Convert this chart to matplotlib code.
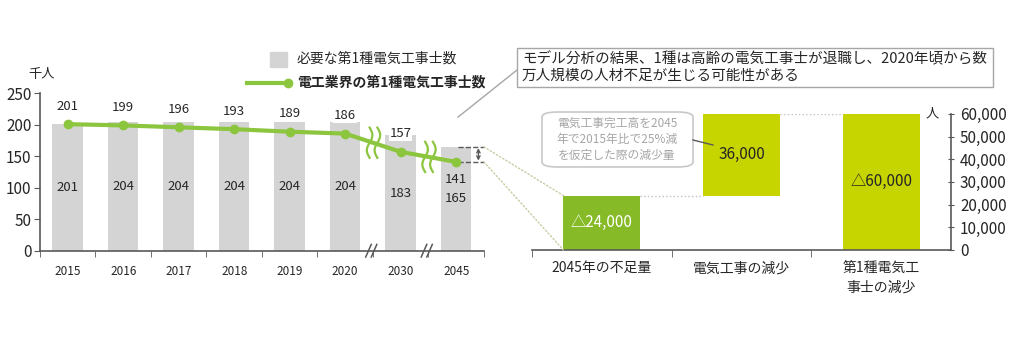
import numpy as np
import matplotlib.pyplot as plt
from matplotlib.patches import Rectangle, FancyBboxPatch, ConnectionPatch
from matplotlib.lines import Line2D
from matplotlib.ticker import FuncFormatter, FixedLocator

plt.rcParams['font.family'] = ['Noto Sans CJK JP', 'DejaVu Sans']

# 左: 必要数と電工業界の第1種電気工事士数(千人)
years = ['2015', '2016', '2017', '2018', '2019', '2020', '2030', '2045']
required = [201, 204, 204, 204, 204, 204, 183, 165]
workers = [201, 199, 196, 193, 189, 186, 157, 141]

# 右: 2045年の不足量の内訳(人)
steps = ['2045年の不足量', '電気工事の減少', '第1種電気工\n事士の減少']
step_base = [0, 24000, 0]
step_height = [24000, 36000, 60000]
step_labels = ['△24,000', '36,000', '△60,000']

GRAY_BAR = '#d4d4d4'
LINE_GREEN = '#8cc63e'
DARK_GREEN = '#86bb27'
LIME = '#c6d400'
AXIS = '#595959'
TEXT = '#262626'

fig = plt.figure(figsize=(10.24, 3.41), dpi=100)

# ---------- 左グラフ ----------
ax = fig.add_axes([0.039, 0.2648, 0.4336, 0.4616])
x = np.arange(len(years))
ax.bar(x, required, width=0.55, color=GRAY_BAR, zorder=1)
ax.plot(x, workers, color=LINE_GREEN, lw=3, marker='o', ms=6, zorder=3)

for i, v in enumerate(required):
    ax.text(i, v / 2, str(v), ha='center', va='center', fontsize=9.5, color=TEXT)
for i, v in enumerate(workers):
    if i == len(workers) - 1:
        ax.annotate(str(v), (i, v), xytext=(0, -12.5), textcoords='offset points',
                    ha='center', va='center', fontsize=9.5, color=TEXT)
    else:
        ax.annotate(str(v), (i, v), xytext=(0, 13), textcoords='offset points',
                    ha='center', va='center', fontsize=9.5, color=TEXT,
                    bbox=dict(fc='white', ec='none', pad=0.5))

ax.set_xlim(-0.5, len(years) - 0.5)
ax.set_ylim(0, 250)
ax.set_yticks(range(0, 251, 50))
ax.set_xticks(x)
ax.set_xticklabels(years, fontsize=8.5, color=TEXT)
ax.xaxis.set_minor_locator(FixedLocator(np.arange(-0.5, len(years), 1)))
ax.tick_params(axis='x', which='major', length=0, pad=10)
ax.tick_params(axis='x', which='minor', length=4, color=AXIS, direction='out')
ax.tick_params(axis='y', labelsize=11, colors=TEXT, length=4, color=AXIS, pad=2)
for s in ['top', 'right']:
    ax.spines[s].set_visible(False)
for s in ['left', 'bottom']:
    ax.spines[s].set_color(AXIS)
    ax.spines[s].set_linewidth(1.2)
ax.text(-0.027, 1.12, '千人', transform=ax.transAxes, fontsize=9.5, color=TEXT,
        ha='left', va='center')

# 軸の省略記号 (//)
for xb in [5.42, 6.42]:
    for dx in [0.0, 0.1]:
        ax.plot([xb + dx - 0.05, xb + dx + 0.05], [-10, 10], color=AXIS, lw=1.1,
                clip_on=False, zorder=5)

# 折れ線の省略記号
t = np.linspace(-1, 1, 30)
for xb in [5.5, 6.5]:
    yc = np.interp(xb, x, workers)
    for dx in [-0.06, 0.08]:
        ax.plot(xb + dx + 0.05 * np.sin(t * np.pi), yc + 24 * t,
                color=LINE_GREEN, lw=1.6, zorder=4)

# 2045年の差分ブラケット
ax.plot([7.03, 7.5], [required[-1]] * 2, ls='--', color=AXIS, lw=1, clip_on=False)
ax.plot([7.03, 7.5], [workers[-1]] * 2, ls='--', color=AXIS, lw=1, clip_on=False)
ax.annotate('', xy=(7.4, workers[-1] + 2), xytext=(7.4, required[-1] - 2),
            arrowprops=dict(arrowstyle='<->', color=AXIS, lw=1, shrinkA=0, shrinkB=0,
                            mutation_scale=6))

# 凡例
fig.add_artist(Rectangle((270 / 1024, 1 - 67 / 341), 17 / 1024, 15 / 341,
                         transform=fig.transFigure, color=GRAY_BAR))
fig.text(297 / 1024, 1 - 59 / 341, '必要な第1種電気工事士数', fontsize=10,
         color=TEXT, va='center')
fig.add_artist(Line2D([247 / 1024, 288 / 1024], [1 - 83 / 341] * 2,
                      transform=fig.transFigure, color=LINE_GREEN, lw=3,
                      marker='o', markevery=[1], ms=6))
fig.text(297 / 1024, 1 - 83 / 341, '電工業界の第1種電気工事士数', fontsize=10,
         color=TEXT, va='center', fontweight='bold')

# ---------- 右グラフ ----------
ax2 = fig.add_axes([0.5195, 0.2669, 0.4092, 0.399])
xs = np.arange(len(steps))
ax2.bar(xs, step_height, bottom=step_base, width=0.55,
        color=[DARK_GREEN, LIME, LIME], zorder=2)
for i in xs:
    ax2.text(i, step_base[i] + step_height[i] / 2, step_labels[i], ha='center',
             va='center', fontsize=11, color='white' if i == 0 else TEXT)

# 滝グラフの接続線
tops = [b + h for b, h in zip(step_base, step_height)]
ax2.plot([0.275, 0.725], [tops[0]] * 2, ls=':', color='#bfbfbf', lw=1)
ax2.plot([1.275, 1.725], [tops[1]] * 2, ls=':', color='#bfbfbf', lw=1)

ax2.set_xlim(-0.5, len(steps) - 0.5)
ax2.set_ylim(0, 60000)
ax2.yaxis.tick_right()
ax2.set_yticks(range(0, 60001, 10000))
ax2.yaxis.set_major_formatter(FuncFormatter(lambda v, p: f'{int(v):,}'))
ax2.tick_params(axis='y', labelsize=11, colors=TEXT, color=AXIS, length=5,
                direction='inout', pad=4)
ax2.set_xticks(xs)
ax2.set_xticklabels(steps, fontsize=10, color=TEXT, linespacing=1.5)
ax2.xaxis.set_minor_locator(FixedLocator([-0.5, 0.5, 1.5]))
ax2.tick_params(axis='x', which='major', length=0, pad=8)
ax2.tick_params(axis='x', which='minor', length=5, color=AXIS, direction='out')
for s in ['top', 'left']:
    ax2.spines[s].set_visible(False)
for s in ['right', 'bottom']:
    ax2.spines[s].set_color(AXIS)
    ax2.spines[s].set_linewidth(1.2)
ax2.text(0.97, 1.0, '人', transform=ax2.transAxes, fontsize=9.5, color=TEXT,
         ha='right', va='center')

# 減少量の注記
fig.add_artist(FancyBboxPatch((542 / 1024, 1 - 167 / 341), 151 / 1024, 55 / 341,
                              boxstyle='round,pad=0,rounding_size=0.015',
                              transform=fig.transFigure, fc='white',
                              ec='#c8c8c8', lw=1.2))
fig.text(617 / 1024, 1 - 139.5 / 341, '電気工事完工高を2045\n年で2015年比で25%減\nを仮定した際の減少量',
         fontsize=8.5, color='#a6a6a6', ha='center', va='center', linespacing=1.3)
fig.add_artist(Line2D([693 / 1024, 713 / 1024], [1 - 140 / 341, 1 - 145 / 341],
                      transform=fig.transFigure, color=AXIS, lw=1))

# 結論の吹き出し
fig.add_artist(Rectangle((517 / 1024, 1 - 87 / 341), 476 / 1024, 39 / 341,
                         transform=fig.transFigure, fc='white', ec='#a6a6a6', lw=1))
fig.text(522 / 1024, 1 - 67 / 341,
         'モデル分析の結果、1種は高齢の電気工事士が退職し、2020年頃から数\n万人規模の人材不足が生じる可能性がある',
         fontsize=10.5, color=TEXT, ha='left', va='center', linespacing=1.25)
fig.add_artist(ConnectionPatch(xyA=(7.03, 212), coordsA=ax.transData,
                               xyB=(517 / 1024, 1 - 70 / 341), coordsB=fig.transFigure,
                               color='#a6a6a6', lw=1))

# 左右をつなぐ点線
fig.add_artist(ConnectionPatch(xyA=(7.5, required[-1]), coordsA=ax.transData,
                               xyB=(-0.275, tops[0]), coordsB=ax2.transData,
                               color='#c9cba3', lw=1, ls=':'))
fig.add_artist(ConnectionPatch(xyA=(7.5, workers[-1]), coordsA=ax.transData,
                               xyB=(-0.275, 0), coordsB=ax2.transData,
                               color='#c9cba3', lw=1, ls=':'))

fig.savefig('out.png', dpi=100)
